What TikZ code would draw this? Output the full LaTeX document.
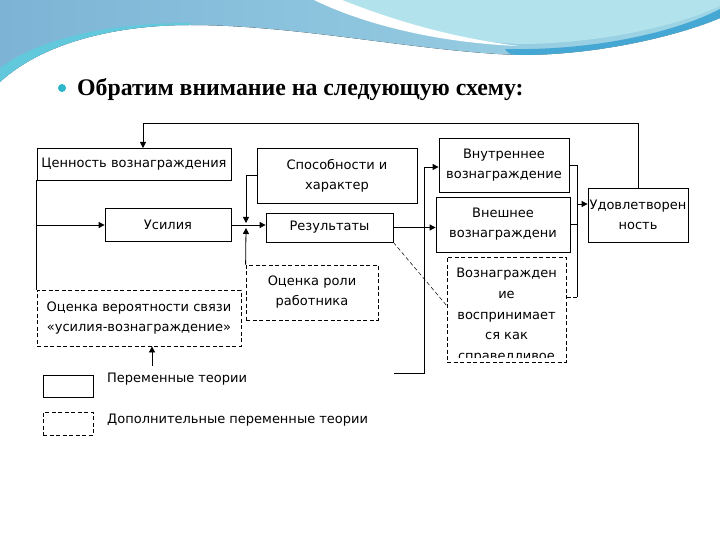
\documentclass[tikz,border=0pt]{standalone}
\usepackage{fontspec}
\setmainfont{DejaVu Sans}
\newfontfamily\titlefont{Liberation Serif}
\usetikzlibrary{arrows.meta,calc}
\definecolor{bandL}{HTML}{7DB4D6}
\definecolor{bandR}{HTML}{9FD6E6}
\definecolor{lightR}{HTML}{B2E3EC}
\definecolor{darkB}{HTML}{45A7D3}
\definecolor{cyanL}{HTML}{62C8DC}
\definecolor{bulletC}{HTML}{2DB6CA}
\tikzset{
  box/.style={draw=black,line width=0.8pt,align=center,inner sep=0pt,font=\labelfont},
  dbox/.style={box,dash pattern=on 4pt off 2.5pt},
  arr/.style={line width=0.8pt,-{Triangle[length=6pt,width=6pt]}},
  ln/.style={line width=0.8pt},
  dln/.style={line width=0.8pt,dash pattern=on 4pt off 2.5pt},
}
\newcommand{\labelfont}{\fontsize{13}{20}\selectfont}
\begin{document}
\begin{tikzpicture}[x=1pt,y=-1pt]
\useasboundingbox (0,0) rectangle (720,540);
\fill[white] (0,0) rectangle (720,540);
% background wave
\fill[left color=bandL,right color=bandR] (0,0) -- (720,0) -- (720,18)
  .. controls (680,35) and (600,55) .. (520,55)
  .. controls (420,52) and (300,25) .. (190,25)
  .. controls (110,25) and (40,45) .. (0,82) -- cycle;
\fill[cyanL] (0,82) .. controls (40,45) and (110,25) .. (190,25)
  -- (190,23) .. controls (110,23) and (40,38) .. (0,68) -- cycle;
\fill[lightR] (321,0) .. controls (370,22) and (440,40) .. (519,44)
  .. controls (600,44) and (680,25) .. (720,6) -- (720,0) -- cycle;
\fill[white] (314,0) .. controls (365,25) and (440,43) .. (519,46)
  .. controls (445,37) and (385,17) .. (342,0) -- cycle;
\fill[darkB] (505,49) .. controls (600,51) and (680,30) .. (720,9)
  -- (720,18) .. controls (680,35) and (600,55) .. (520,55)
  .. controls (512,55) and (508,54) .. (505,49) -- cycle;
% title
\fill[bulletC] (62,88) circle (4);
\node[anchor=west,inner sep=0pt] (title) at (77,90)
  {\titlefont\fontsize{23.8}{26}\selectfont\bfseries Обратим внимание на следующую схему:};
% boxes
\node[box,minimum width=194pt,minimum height=32pt] (cen) at (134,164) {Ценность вознаграждения};
\node[box,minimum width=126pt,minimum height=33pt] (usl) at (168,225) {Усилия};
\node[box,minimum width=160pt,minimum height=55pt] (spo) at (337,175.5) {Способности и\\характер};
\node[box,minimum width=127pt,minimum height=29pt] (res) at (329.5,227.5) {Результаты};
\node[dbox,minimum width=132pt,minimum height=55pt] (rol) at (312,292.5) {Оценка роли\\работника};
\node[dbox,minimum width=204pt,minimum height=56pt] (ver) at (139,318) {Оценка вероятности связи\\«усилия-вознаграждение»};
\node[box,minimum width=130pt,minimum height=54pt] (vnu) at (504,165) {Внутреннее\\вознаграждение};
\node[box,minimum width=134pt,minimum height=55pt] (vne) at (503,224.5) {Внешнее\\вознаграждени};
\begin{scope}
  \clip (447,257) rectangle (566,357.5);
  \node[align=center,inner sep=0pt,anchor=north,font=\fontsize{13}{20.7}\selectfont] (voztext) at (506.5,268)
    {Вознагражден\\ие\\воспринимает\\ся как\\справедливое};
\end{scope}
\node[dbox,minimum width=119pt,minimum height=105pt] (voz) at (506.5,309.5) {};
\node[box,minimum width=100pt,minimum height=54pt] (udo) at (638,215) {Удовлетворен\\ность};
% legend
\node[box,minimum width=50pt,minimum height=22pt] (leg1) at (68,386) {};
\node[dbox,minimum width=50pt,minimum height=23pt] (leg2) at (68,423.5) {};
\node[anchor=west,inner sep=0pt,font=\labelfont] (leg1t) at (107,379) {Переменные теории};
\node[anchor=west,inner sep=0pt,font=\labelfont] (leg2t) at (107,420) {Дополнительные переменные теории};
% coordinates
\coordinate (cenin) at (143,148);
\coordinate (fbtop) at (143,123);
\coordinate (jd) at (246,223);
\coordinate (ju) at (246,228);
\coordinate (lowend) at (394,373);
\coordinate (vx) at (424,167);
\coordinate (bt) at (577,165);
\coordinate (bb) at (577,297);
\coordinate (bm) at (577,204);
\coordinate (verin) at (152,366);
\coordinate (vozin) at ($(voz.west)+(0,-4)$);
% connectors
\draw[arr] (udo.north) |- (fbtop) -- (cenin);
\draw[ln] (cen.south west) -- (ver.north west);
\draw[arr] (cen.south west |- usl.west) -- (usl.west);
\draw[arr] (usl.east) -- (usl.east -| res.west);
\draw[arr] (spo.west) -| (jd);
\draw[arr] (rol.north west) -- (ju);
\draw[arr] (res.east) -- (res.east -| vne.west);
\draw[arr] (lowend) -| (vx) -- (vx -| vnu.west);
\draw[ln] (vnu.east) -- (bt) -- (bb);
\draw[dln] (bb) -- (bb -| voz.east);
\draw[ln] (vne.east) -- (vne.east -| bt);
\draw[arr] (bm) -- (bm -| udo.west);
\draw[line width=0.5pt,dash pattern=on 4pt off 2.5pt] (res.south east) -- (vozin);
\draw[arr] (verin) -- (verin |- ver.south);
\end{tikzpicture}
\end{document}
